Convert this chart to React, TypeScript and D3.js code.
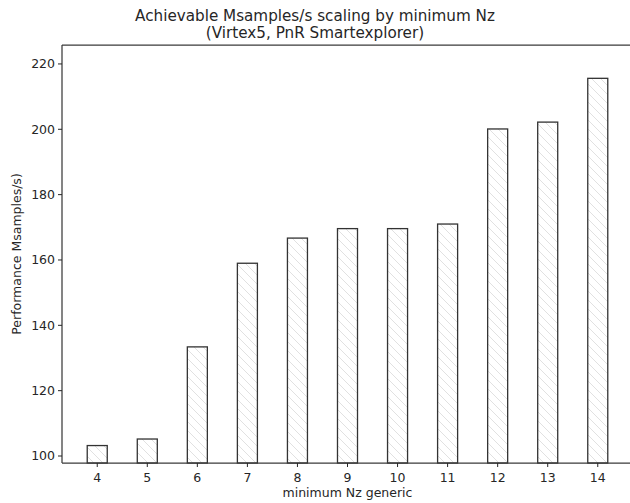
import React, { useEffect, useRef } from 'react';
import * as d3 from 'd3';

// chart values
const nzValues = [4, 5, 6, 7, 8, 9, 10, 11, 12, 13, 14];
const performance = [103.2, 105.2, 133.4, 159.0, 166.7, 169.6, 169.6, 171.0, 200.1, 202.2, 215.6];
const yTicks = [100, 120, 140, 160, 180, 200, 220];
const titleLines = ['Achievable Msamples/s scaling by minimum Nz', '(Virtex5, PnR Smartexplorer)'];

const App = () => {
  const ref = useRef<SVGSVGElement>(null);

  useEffect(() => {
    const left = 62;
    const top = 45;
    const bottom = 463;
    const right = 633;

    const svg = d3.select(ref.current);
    svg.selectAll('*').remove();
    const font = 'DejaVu Sans, sans-serif';
    const ink = '#262626';
    const fs = 12.5;

    // hatch pattern for the bars
    const defs = svg.append('defs');
    const pat = defs.append('pattern')
      .attr('id', 'hatch')
      .attr('patternUnits', 'userSpaceOnUse')
      .attr('width', 9)
      .attr('height', 9);
    pat.append('path')
      .attr('d', 'M-2,-2 L11,11 M-2,7 L2,11 M7,-2 L11,2')
      .attr('stroke', '#dedede')
      .attr('stroke-width', 0.9);

    const x = d3.scaleLinear().domain([3.296, 14.704]).range([left, right]);
    const y = d3.scaleLinear().domain([97.86, 225.8]).range([bottom, top]);
    const barW = x(0.4) - x(0);

    // bars
    svg.append('g')
      .selectAll('rect')
      .data(nzValues)
      .enter()
      .append('rect')
      .attr('x', (d) => x(d) - barW / 2)
      .attr('y', (d, i) => y(performance[i]))
      .attr('width', barW)
      .attr('height', (d, i) => y(97.86) - y(performance[i]))
      .attr('fill', 'url(#hatch)')
      .attr('stroke', '#333')
      .attr('stroke-width', 1.3);

    // spines
    const spine = svg.append('g').attr('stroke', '#3a3a3a').attr('stroke-width', 1.25).attr('fill', 'none');
    spine.append('line').attr('x1', left).attr('x2', right).attr('y1', top).attr('y2', top);
    spine.append('line').attr('x1', left).attr('x2', right).attr('y1', bottom).attr('y2', bottom);
    spine.append('line').attr('x1', left).attr('x2', left).attr('y1', top).attr('y2', bottom);

    // y axis
    const yAxis = svg.append('g');
    yTicks.forEach((t) => {
      yAxis.append('line')
        .attr('x1', left - 4).attr('x2', left)
        .attr('y1', y(t)).attr('y2', y(t))
        .attr('stroke', ink).attr('stroke-width', 1);
      yAxis.append('text')
        .attr('x', left - 7).attr('y', y(t))
        .attr('dy', '0.35em')
        .attr('text-anchor', 'end')
        .attr('font-family', font).attr('font-size', fs)
        .attr('fill', ink)
        .text(t);
    });

    // x axis
    const xAxis = svg.append('g');
    nzValues.forEach((v) => {
      xAxis.append('line')
        .attr('x1', x(v)).attr('x2', x(v))
        .attr('y1', bottom).attr('y2', bottom + 4)
        .attr('stroke', ink).attr('stroke-width', 1);
      xAxis.append('text')
        .attr('x', x(v)).attr('y', bottom + 15)
        .attr('dy', '0.35em')
        .attr('text-anchor', 'middle')
        .attr('font-family', font).attr('font-size', fs)
        .attr('fill', ink)
        .text(v);
    });

    // axis labels
    svg.append('text')
      .attr('x', (left + right) / 2).attr('y', 493)
      .attr('dy', '0.35em')
      .attr('text-anchor', 'middle')
      .attr('font-family', font).attr('font-size', fs)
      .attr('fill', ink)
      .text('minimum Nz generic');

    svg.append('text')
      .attr('transform', `translate(17,${(top + bottom) / 2}) rotate(-90)`)
      .attr('dy', '0.35em')
      .attr('text-anchor', 'middle')
      .attr('font-family', font).attr('font-size', fs)
      .attr('fill', ink)
      .text('Performance Msamples/s)');

    // title, centred on the figure
    titleLines.forEach((line, i) => {
      svg.append('text')
        .attr('x', 315).attr('y', 16 + i * 17)
        .attr('dy', '0.35em')
        .attr('text-anchor', 'middle')
        .attr('font-family', font).attr('font-size', 15.2)
        .attr('fill', ink)
        .text(line);
    });
  }, []);

  return (
    <svg
      ref={ref}
      width={630}
      height={503}
      style={{ position: 'absolute', left: 0, top: 0, background: '#fff' }}
    />
  );
};

export default App;
